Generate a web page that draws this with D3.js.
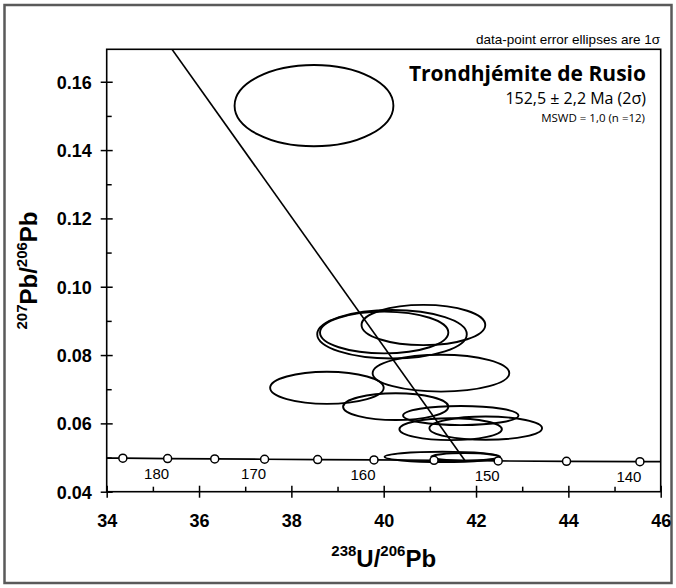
<!DOCTYPE html>
<html>
<head>
<meta charset="utf-8">
<script src="https://d3js.org/d3.v7.min.js"></script>
<style>
  body { margin: 0; background: #fff; }
  svg text { fill: #000; }
</style>
</head>
<body>
<svg width="676" height="588"></svg>
<script>
// error ellipses (centre and 1 sigma half axes)
const ellX  = [38.49, 40.18, 40.01, 40.86, 41.24, 38.77, 40.26, 41.67, 41.45, 42.21, 41.27, 41.76];
const ellY  = [0.1530, 0.0861, 0.0866, 0.0888, 0.0747, 0.0704, 0.0649, 0.0623, 0.0583, 0.0586, 0.0502, 0.0502];
const ellSx = [1.72, 1.62, 1.39, 1.34, 1.48, 1.23, 1.14, 1.25, 1.11, 1.22, 1.25, 0.73];
const ellSy = [0.0119, 0.0071, 0.0061, 0.0059, 0.0054, 0.0047, 0.0039, 0.0028, 0.0032, 0.0034, 0.0015, 0.0011];

// concordia age marks (Ma)
const concAge = [185, 180, 175, 170, 165, 160, 155, 150, 145, 140];
const concX   = [34.35, 35.32, 36.34, 37.42, 38.57, 39.79, 41.09, 42.48, 43.96, 45.55];
const concY   = [0.0498, 0.0497, 0.0496, 0.0495, 0.0494, 0.0493, 0.0492, 0.0490, 0.0489, 0.0488];
const concLabels = [180, 170, 160, 150, 140];
// concordia ends at the frame
const concEndX = [34, 46];
const concEndY = [0.0498, 0.0488];

// discordia: common Pb intercept and lower intercept
const discX = [0, 41.77];
const discY = [0.8415, 0.0489];

const xMajor = [34, 36, 38, 40, 42, 44, 46];
const xMinor = [35, 37, 39, 41, 43, 45];
const yMajor = [0.04, 0.06, 0.08, 0.10, 0.12, 0.14, 0.16];
const yMinor = [0.05, 0.07, 0.09, 0.11, 0.13, 0.15];

const svg = d3.select('svg');
const L = 106.7, R = 660.7, T = 49.3, B = 491.7;

const x = d3.scaleLinear().domain([34, 46]).range([L, R]);
const y = d3.scaleLinear().domain([0.04, 0.1695]).range([B, T]);

// outer frame
svg.append('rect')
  .attr('x', 4.5).attr('y', 5).attr('width', 667).attr('height', 578)
  .attr('fill', 'none').attr('stroke', '#5a5a5a').attr('stroke-width', 2.5);

svg.append('text')
  .attr('x', 660).attr('y', 44)
  .attr('text-anchor', 'end')
  .style('font-family', 'Liberation Sans, Arial, sans-serif')
  .style('font-size', '13.5px')
  .text('data-point error ellipses are 1σ');

svg.append('clipPath').attr('id', 'plot')
  .append('rect').attr('x', L).attr('y', T).attr('width', R - L).attr('height', B - T);

const g = svg.append('g').attr('clip-path', 'url(#plot)');

// discordia
g.append('line')
  .attr('x1', x(discX[0])).attr('y1', y(discY[0]))
  .attr('x2', x(discX[1])).attr('y2', y(discY[1]))
  .attr('stroke', '#000').attr('stroke-width', 1.6);

// concordia
const concPts = [[concEndX[0], concEndY[0]]]
  .concat(concX.map((v, i) => [v, concY[i]]))
  .concat([[concEndX[1], concEndY[1]]]);
g.append('path')
  .attr('d', d3.line().x(d => x(d[0])).y(d => y(d[1]))(concPts))
  .attr('fill', 'none').attr('stroke', '#000').attr('stroke-width', 1.7);

// ellipses
g.selectAll('ellipse.err')
  .data(ellX.map((v, i) => ({x: v, y: ellY[i], sx: ellSx[i], sy: ellSy[i]})))
  .enter().append('ellipse')
  .attr('class', 'err')
  .attr('cx', d => x(d.x)).attr('cy', d => y(d.y))
  .attr('rx', d => x(d.x + d.sx) - x(d.x))
  .attr('ry', d => y(d.y) - y(d.y + d.sy))
  .attr('fill', 'none').attr('stroke', '#000').attr('stroke-width', 1.9);

// concordia marks
g.selectAll('circle.age')
  .data(concAge.map((a, i) => ({a: a, x: concX[i], y: concY[i]})))
  .enter().append('circle')
  .attr('class', 'age')
  .attr('cx', d => x(d.x)).attr('cy', d => y(d.y)).attr('r', 4)
  .attr('fill', '#fff').attr('stroke', '#000').attr('stroke-width', 1.5);

svg.selectAll('text.age')
  .data(concLabels)
  .enter().append('text')
  .attr('class', 'age')
  .attr('x', a => x(concX[concAge.indexOf(a)]) - 11)
  .attr('y', a => y(concY[concAge.indexOf(a)]) + 20)
  .attr('text-anchor', 'middle')
  .style('font-family', 'Liberation Sans, Arial, sans-serif')
  .style('font-size', '15px')
  .text(a => a);

// axes
const xAx = svg.append('g').attr('transform', `translate(0,${B})`)
  .call(d3.axisBottom(x).tickValues(xMajor).tickSize(6).tickFormat(d3.format('d')));
xAx.selectAll('.tick line').attr('y1', -6).attr('y2', 6);
xAx.selectAll('.tick text').attr('y', 35).attr('dy', null);

svg.append('g').attr('transform', `translate(0,${B})`)
  .call(d3.axisBottom(x).tickValues(xMinor).tickSize(-5).tickFormat(''));

const yAx = svg.append('g').attr('transform', `translate(${L},0)`)
  .call(d3.axisLeft(y).tickValues(yMajor).tickSize(6).tickFormat(d3.format('.2f')));
yAx.selectAll('.tick line').attr('x1', -6).attr('x2', 6);
yAx.selectAll('.tick text').attr('x', -15).attr('dy', '0.36em');

svg.append('g').attr('transform', `translate(${L},0)`)
  .call(d3.axisLeft(y).tickValues(yMinor).tickSize(-5).tickFormat(''));

svg.selectAll('.domain').remove();
svg.selectAll('.tick line').attr('stroke', '#000').attr('stroke-width', 1.5);
svg.selectAll('.tick text')
  .style('font-family', 'Liberation Sans, Arial, sans-serif')
  .style('font-size', '18px').style('font-weight', 'bold');

// plot frame
svg.append('rect')
  .attr('x', L).attr('y', T).attr('width', R - L).attr('height', B - T)
  .attr('fill', 'none').attr('stroke', '#000').attr('stroke-width', 1.6);

// axis titles
const xt = svg.append('text')
  .attr('x', (L + R) / 2).attr('y', 566.5)
  .attr('text-anchor', 'middle')
  .style('font-family', 'Liberation Sans, Arial, sans-serif')
  .style('font-weight', 'bold').style('font-size', '24px');
xt.append('tspan').attr('dy', -11).style('font-size', '15px').text('238');
xt.append('tspan').attr('dy', 11).text('U/');
xt.append('tspan').attr('dy', -11).style('font-size', '15px').text('206');
xt.append('tspan').attr('dy', 11).text('Pb');

const yt = svg.append('text')
  .attr('transform', `translate(36.5,${(T + B) / 2}) rotate(-90)`)
  .attr('text-anchor', 'middle')
  .style('font-family', 'Liberation Sans, Arial, sans-serif')
  .style('font-weight', 'bold').style('font-size', '24px');
yt.append('tspan').attr('dy', -10).style('font-size', '15px').text('207');
yt.append('tspan').attr('dy', 10).text('Pb/');
yt.append('tspan').attr('dy', -10).style('font-size', '15px').text('206');
yt.append('tspan').attr('dy', 10).text('Pb');

// sample label
const lab = svg.append('g').attr('text-anchor', 'end')
  .style('font-family', 'Open Sans, Noto Sans, sans-serif');
lab.append('text').attr('x', 646).attr('y', 81)
  .style('font-size', '21px').style('font-weight', 'bold')
  .text('Trondhjémite de Rusio');
lab.append('text').attr('x', 646).attr('y', 104)
  .style('font-size', '16px')
  .text('152,5 ± 2,2 Ma (2σ)');
lab.append('text').attr('x', 645).attr('y', 122)
  .style('font-size', '11.5px')
  .text('MSWD = 1,0 (n =12)');
</script>
</body>
</html>
